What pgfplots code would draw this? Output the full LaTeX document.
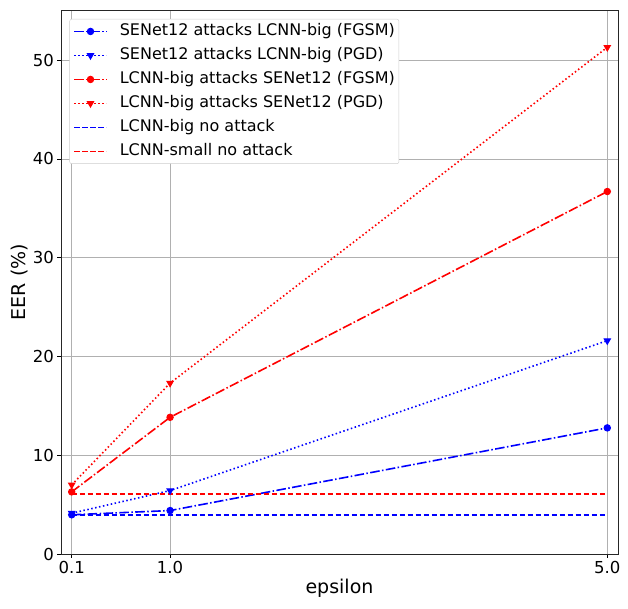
\documentclass[border=0pt]{standalone}
\usepackage{pgfplots}
\pgfplotsset{compat=1.18}
\usepackage{fontspec}
\setmainfont{DejaVu Sans}
\definecolor{gridgray}{HTML}{B0B0B0}
\definecolor{legedge}{HTML}{CCCCCC}
\definecolor{mblue}{RGB}{0,0,255}
\definecolor{mred}{RGB}{255,0,0}
\tikzset{
  dashdotmpl/.style={dash pattern=on 9.6bp off 2.4bp on 1.5bp off 2.4bp},
  dotmpl/.style={dash pattern=on 1.5bp off 2.5bp},
  dashmpl/.style={dash pattern=on 5.6bp off 2.4bp},
}
\begin{document}
\begin{tikzpicture}
\begin{axis}[
  scale only axis,
  width=557bp, height=544bp,
  xmin=0.002, xmax=5.098,
  ymin=0, ymax=55.08,
  xtick={0.1,1.0,5.0},
  xticklabels={0.1,1.0,5.0},
  ytick={0,10,20,30,40,50},
  /pgf/number format/assume math mode=true,
  tick label style={font=\fontsize{16.5bp}{19bp}\selectfont},
  label style={font=\fontsize{19bp}{22bp}\selectfont},
  xlabel={epsilon},
  ylabel={EER (\%)},
  xlabel style={yshift=1bp},
  ylabel style={yshift=-2bp},
  grid=major,
  major grid style={gridgray, line width=0.8bp},
  tick align=outside,
  tick pos=left,
  major tick length=3.5bp,
  every tick/.style={black, line width=0.8bp},
  axis line style={line width=0.8bp, black!85},
  legend cell align=left,
  legend style={
    at={(rel axis cs:0,1)}, xshift=8.5bp, yshift=-9bp,
    anchor=north west,
    draw=legedge, fill=white,
    rounded corners=2bp,
    font=\fontsize{16bp}{19bp}\selectfont,
    nodes={inner sep=0pt, text height=12bp, text depth=3.5bp},
    row sep=8.5bp,
    column sep=0bp,
    inner xsep=4bp, inner ysep=4.5bp,
  },
  legend image code/.code={
    \draw[#1, mark repeat=2,mark phase=2] plot coordinates {(0bp,0bp) (16bp,0bp) (32bp,0bp)};
  },
]
\addplot[draw=mblue, line width=1.6bp, dashdotmpl, mark=*, mark size=3.2bp, mark options={solid, fill=mblue, draw=mblue, line width=1bp}]
  coordinates {(0.1,3.97) (1.0,4.40) (5.0,12.77)};
\addlegendentry{\hspace*{12.5bp}SENet12 attacks LCNN-big (FGSM)}
\addplot[draw=mblue, line width=1.6bp, dotmpl, mark=triangle*, mark size=3.6bp, mark options={solid, rotate=180, fill=mblue, draw=mblue, line width=1bp}]
  coordinates {(0.1,4.13) (1.0,6.42) (5.0,21.6)};
\addlegendentry{\hspace*{12.5bp}SENet12 attacks LCNN-big (PGD)}
\addplot[draw=mred, line width=1.6bp, dashdotmpl, mark=*, mark size=3.2bp, mark options={solid, fill=mred, draw=mred, line width=1bp}]
  coordinates {(0.1,6.29) (1.0,13.84) (5.0,36.7)};
\addlegendentry{\hspace*{12.5bp}LCNN-big attacks SENet12 (FGSM)}
\addplot[draw=mred, line width=1.6bp, dotmpl, mark=triangle*, mark size=3.6bp, mark options={solid, rotate=180, fill=mred, draw=mred, line width=1bp}]
  coordinates {(0.1,7.0) (1.0,17.3) (5.0,51.3)};
\addlegendentry{\hspace*{12.5bp}LCNN-big attacks SENet12 (PGD)}
\addplot[draw=mblue, line width=1.6bp, dashmpl, no markers]
  coordinates {(0.1,3.93) (5.0,3.93)};
\addlegendentry{\hspace*{12.5bp}LCNN-big no attack}
\addplot[draw=mred, line width=1.6bp, dashmpl, no markers]
  coordinates {(0.1,6.1) (5.0,6.1)};
\addlegendentry{\hspace*{12.5bp}LCNN-small no attack}
\end{axis}
\pgfresetboundingbox
\path[use as bounding box] ([xshift=-61bp,yshift=-55bp]current axis.south west) rectangle ([xshift=10bp,yshift=10bp]current axis.north east);
\end{tikzpicture}
\end{document}
